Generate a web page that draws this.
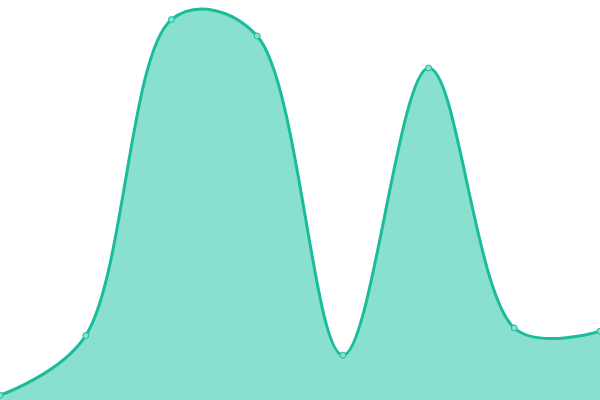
<!DOCTYPE html>
<html>
<head>
<meta charset="utf-8">
<script src="https://cdn.jsdelivr.net/npm/d3@7"></script>
<style>
  html, body { margin: 0; padding: 0; background: #fff; }
  svg { display: block; }
</style>
</head>
<body>
<div class="area-chart"></div>
<script>
const categories = ['A', 'B', 'C', 'D', 'E', 'F', 'G', 'H']
const values = [1.2, 16.1, 95.1, 91, 11.2, 83, 18, 17.2]

const width = 600
const height = 400

const x = d3
  .scalePoint()
  .domain(categories)
  .range([0, width])

const y = d3
  .scaleLinear()
  .domain([0, 100])
  .range([height, 0])

const data = categories.map((c, i) => ({ c, v: values[i] }))

const curve = d3.curveCatmullRom.alpha(0.4)

const area = d3
  .area()
  .x(d => x(d.c))
  .y0(height)
  .y1(d => y(d.v))
  .curve(curve)

const line = d3
  .line()
  .x(d => x(d.c))
  .y(d => y(d.v))
  .curve(curve)

const svg = d3
  .select('.area-chart')
  .append('svg')
  .attr('width', width)
  .attr('height', height)

svg
  .append('path')
  .datum(data)
  .attr('d', area)
  .attr('fill', '#8ae0ce')

svg
  .append('path')
  .datum(data)
  .attr('d', line)
  .attr('fill', 'none')
  .attr('stroke', '#1abc9c')
  .attr('stroke-width', 3)

svg
  .selectAll('circle')
  .data(data)
  .enter()
  .append('circle')
  .attr('cx', d => x(d.c))
  .attr('cy', d => y(d.v))
  .attr('r', 3)
  .attr('fill', '#8ae0ce')
  .attr('stroke', '#1abc9c')
  .attr('stroke-width', 1)
</script>
</body>
</html>
